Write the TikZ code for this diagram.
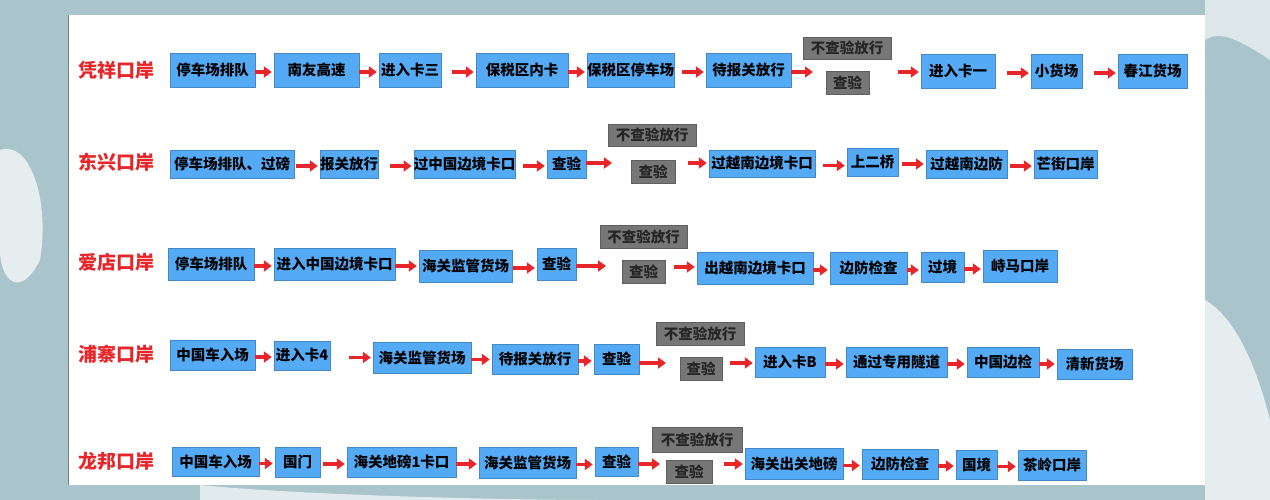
\documentclass[tikz,border=0pt]{standalone}
\usepackage{fontspec}
\newfontfamily\cjk{Noto Sans CJK SC}
\usetikzlibrary{arrows.meta,calc}
\definecolor{bgc}{HTML}{A9C4CA}
\definecolor{bxb}{HTML}{55AAF5}
\definecolor{bxg}{HTML}{777777}
\definecolor{arc}{HTML}{E8262A}
\definecolor{prt}{HTML}{E8262A}
\tikzset{
 box/.style={draw=bxb!80!black,line width=0.4pt,fill=bxb,inner sep=0pt,font=\cjk\bfseries\fontsize{14.5}{14.5}\selectfont,text=black},
 gbox/.style={box,draw=bxg!80!black,fill=bxg,text=black!85},
 port/.style={font=\cjk\bfseries\fontsize{19}{19}\selectfont,text=prt,anchor=west,inner sep=0pt},
 arr/.style={draw=arc,line width=3.4pt,-{Triangle[length=8pt,width=11pt]}}
}
\newcommand\bx[7]{\node[#1,minimum width={#4-#2},minimum height={#5-#3}] (#6) at ({(#2+#4)/2},{(#3+#5)/2}) {#7};}
\newcommand\ar[2]{\draw[arr] let \p1=(#1.east),\p2=(#2.west) in ({max(\x1,\x2-24pt)},{\y1-2pt}) -- ({\x2-2pt},{\y1-2pt});}
\newcommand\arc[2]{\draw[arr] let \p1=(#1),\p2=(#2) in (\x1,\y1) -- ({\x2-2pt},\y1);}
\begin{document}
\begin{tikzpicture}[x=1pt,y=-1pt]
\useasboundingbox (0,0) rectangle (1270,500);
\fill[bgc] (0,0) rectangle (1270,500);
\fill[white!70!bgc] (0,150) .. controls (30,140) and (50,200) .. (40,260) .. controls (20,300) and (0,280) .. (0,250) -- cycle;
\fill[white!60!bgc] (1205,0) -- (1270,0) -- (1270,60) .. controls (1240,40) and (1220,30) .. (1205,40) -- cycle;
\fill[white!70!bgc] (1205,300) .. controls (1240,320) and (1260,380) .. (1270,420) -- (1270,500) -- (1205,500) -- cycle;
\fill[white!65!bgc] (200,485) .. controls (300,495) and (500,500) .. (600,500) -- (200,500) -- cycle;
\fill[white] (68,15) rectangle (1205,485);
\draw[gray,line width=0.8pt] (68,15) -- (68,485);
% row 1
\node[port] (p1) at (78,70) {凭祥口岸};
\bx{box}{170}{53}{255}{87}{a1}{停车场排队}
\bx{box}{274}{53}{359}{87}{a2}{南友高速}
\bx{box}{379}{53}{441}{87}{a3}{进入卡三}
\bx{box}{476}{53}{568}{87}{a4}{保税区内卡}
\bx{box}{589}{53}{672}{87}{a5}{保税区停车场}
\bx{box}{706}{53}{791}{87}{a6}{待报关放行}
\bx{gbox}{803}{37}{891}{59}{a7}{不查验放行}
\bx{gbox}{826}{71}{869}{94}{a8}{查验}
\bx{box}{921}{54}{995}{88}{a9}{进入卡一}
\bx{box}{1031}{54}{1082}{88}{a10}{小货场}
\bx{box}{1118}{54}{1187}{88}{a11}{春江货场}
\coordinate (a6x) at (815,72); \coordinate (a8x) at (898,72);
\ar{a1}{a2}\ar{a2}{a3}\ar{a3}{a4}\ar{a4}{a5}\ar{a5}{a6}
\arc{a6.east |- a6x}{a6x}\arc{a8x}{a9.west}
\ar{a9}{a10}\ar{a10}{a11}
% row 2
\node[port] (p2) at (78,162) {东兴口岸};
\bx{box}{170}{150}{294}{178}{b1}{停车场排队、过磅}
\bx{box}{320}{150}{378}{178}{b2}{报关放行}
\bx{box}{414}{150}{515}{178}{b3}{过中国边境卡口}
\bx{box}{547}{150}{586}{178}{b4}{查验}
\bx{gbox}{608}{124}{696}{146}{b5}{不查验放行}
\bx{gbox}{631}{160}{675}{183}{b6}{查验}
\bx{box}{709}{150}{815}{177}{b7}{过越南边境卡口}
\bx{box}{847}{148}{898}{176}{b8}{上二桥}
\bx{box}{926}{150}{1007}{178}{b9}{过越南边防}
\bx{box}{1034}{150}{1097}{178}{b10}{芒街口岸}
\coordinate (b4x) at (614,163); \coordinate (b6x) at (688,163);
\ar{b1}{b2}\ar{b2}{b3}\ar{b3}{b4}
\arc{b4.east |- b4x}{b4x}\arc{b6x}{b7.west}
\ar{b7}{b8}\ar{b8}{b9}\ar{b9}{b10}
% row 3
\node[port] (p3) at (78,262) {爱店口岸};
\bx{box}{168}{248}{254}{280}{c1}{停车场排队}
\bx{box}{274}{248}{395}{280}{c2}{进入中国边境卡口}
\bx{box}{419}{250}{512}{282}{c3}{海关监管货场}
\bx{box}{537}{248}{576}{280}{c4}{查验}
\bx{gbox}{600}{225}{687}{248}{c5}{不查验放行}
\bx{gbox}{622}{260}{665}{283}{c6}{查验}
\bx{box}{697}{252}{813}{284}{c7}{出越南边境卡口}
\bx{box}{830}{252}{907}{284}{c8}{边防检查}
\bx{box}{921}{252}{964}{282}{c9}{过境}
\bx{box}{983}{250}{1057}{282}{c10}{峙马口岸}
\coordinate (c4x) at (608,266); \coordinate (c6x) at (674,267);
\ar{c1}{c2}\ar{c2}{c3}\ar{c3}{c4}
\arc{c4.east |- c4x}{c4x}\arc{c6x}{c7.west}
\ar{c7}{c8}\ar{c8}{c9}\ar{c9}{c10}
% row 4
\node[port] (p4) at (78,354) {浦寨口岸};
\bx{box}{170}{340}{255}{370}{d1}{中国车入场}
\bx{box}{274}{341}{330}{370}{d2}{进入卡4}
\bx{box}{373}{342}{471}{373}{d3}{海关监管货场}
\bx{box}{492}{344}{578}{374}{d4}{待报关放行}
\bx{box}{594}{344}{639}{374}{d5}{查验}
\bx{gbox}{656}{322}{744}{345}{d6}{不查验放行}
\bx{gbox}{680}{357}{722}{380}{d7}{查验}
\bx{box}{755}{347}{825}{377}{d8}{进入卡B}
\bx{box}{846}{347}{947}{377}{d9}{通过专用隧道}
\bx{box}{967}{347}{1039}{377}{d10}{中国边检}
\bx{box}{1057}{349}{1132}{379}{d11}{清新货场}
\coordinate (d5x) at (668,363); \coordinate (d7x) at (730,363);
\ar{d1}{d2}\ar{d2}{d3}\ar{d3}{d4}\ar{d4}{d5}
\arc{d5.east |- d5x}{d5x}\arc{d7x}{d8.west}
\ar{d8}{d9}\ar{d9}{d10}\ar{d10}{d11}
% row 5
\node[port] (p5) at (78,461) {龙邦口岸};
\bx{box}{172}{447}{259}{476}{e1}{中国车入场}
\bx{box}{275}{447}{320}{477}{e2}{国门}
\bx{box}{347}{447}{456}{477}{e3}{海关地磅1卡口}
\bx{box}{479}{447}{576}{478}{e4}{海关监管货场}
\bx{box}{595}{447}{638}{476}{e5}{查验}
\bx{gbox}{652}{427}{742}{452}{e6}{不查验放行}
\bx{gbox}{666}{460}{712}{483}{e7}{查验}
\bx{box}{745}{448}{843}{479}{e8}{海关出关地磅}
\bx{box}{862}{449}{938}{479}{e9}{边防检查}
\bx{box}{956}{450}{997}{479}{e10}{国境}
\bx{box}{1018}{450}{1086}{480}{e11}{茶岭口岸}
\coordinate (e5x) at (662,464); \coordinate (e7x) at (724,464);
\ar{e1}{e2}\ar{e2}{e3}\ar{e3}{e4}\ar{e4}{e5}
\arc{e5.east |- e5x}{e5x}\arc{e7x}{e8.west}
\ar{e8}{e9}\ar{e9}{e10}\ar{e10}{e11}
\end{tikzpicture}
\end{document}
